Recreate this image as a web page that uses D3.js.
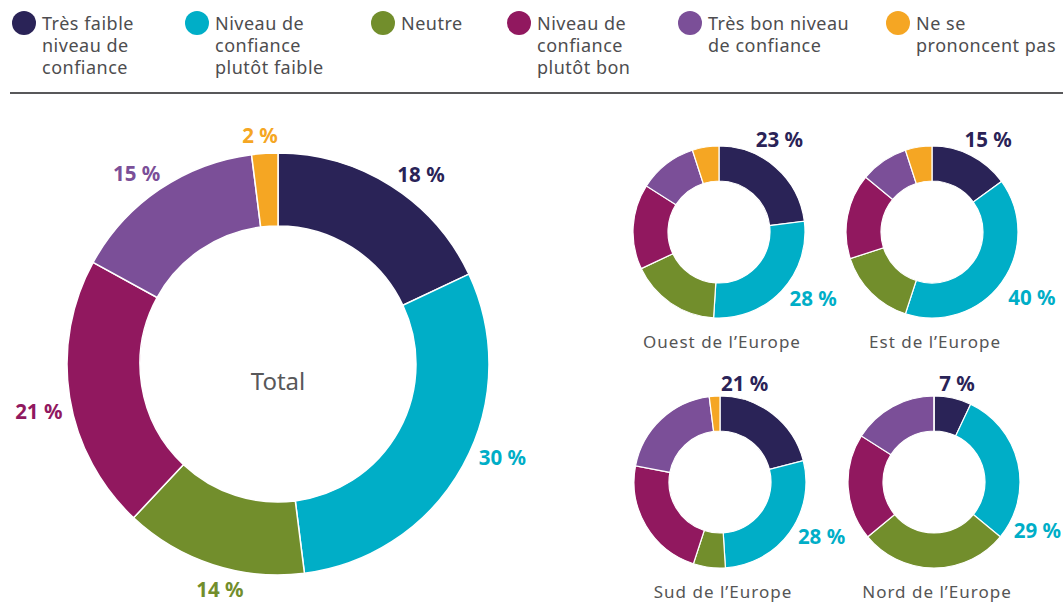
<!DOCTYPE html>
<html lang="fr">
<head>
<meta charset="utf-8">
<title>Niveau de confiance</title>
<style>
  body { margin: 0; background: #fff; }
  svg { display: block; font-family: "Noto Sans", "Open Sans", sans-serif; }
  .legend text { font-size: 18px; fill: #4d4d4f; letter-spacing: 0.5px; }
  .pct { font-size: 20.5px; font-weight: 700; }
  .caption { font-size: 17px; fill: #555; letter-spacing: 1px; }
</style>
</head>
<body>
<svg width="1063" height="603"></svg>
<script src="https://d3js.org/d3.v7.min.js"></script>
<script>
// categories (legend lines)
var categories = [
  ["Très faible", "niveau de", "confiance"],
  ["Niveau de", "confiance", "plutôt faible"],
  ["Neutre"],
  ["Niveau de", "confiance", "plutôt bon"],
  ["Très bon niveau", "de confiance"],
  ["Ne se", "prononcent pas"]
];
var colors = ["#2a2357", "#00aec7", "#728e2c", "#91185f", "#7b4f98", "#f5a623"];

// values in %
var totalValues = [18, 30, 14, 21, 15, 2];
var regions = ["Ouest de l’Europe", "Est de l’Europe", "Sud de l’Europe", "Nord de l’Europe"];
var ouestValues = [23, 28, 17, 16, 11, 5];
var estValues = [15, 40, 15, 16, 9, 5];
var sudValues = [21, 28, 6, 23, 20, 2];
var nordValues = [7, 29, 28, 20, 16, 0];
var regionValues = [ouestValues, estValues, sudValues, nordValues];

// layout
var legendX = [24, 197, 383, 519, 690, 898];
// label direction (degrees from top) around the big donut
var bigLabelAngle = [37, 112.5, 194.5, 259, 323.5, 355.5];
var smallPos = [
  {cx: 719, cy: 232, a: [33, 125], r: [111, 115]},
  {cx: 932, cy: 232, a: [31, 123], r: [109, 119]},
  {cx: 720, cy: 482, a: [14, 118], r: [102, 115]},
  {cx: 934, cy: 482, a: [13, 115], r: [102, 114]}
];

var svg = d3.select("svg");
var pie = d3.pie().sort(null).value(function(d) { return d; });
var rad = Math.PI / 180;

// legend
var leg = svg.append("g").attr("class", "legend");
categories.forEach(function(lines, i) {
  var g = leg.append("g").attr("transform", "translate(" + legendX[i] + ",23)");
  g.append("circle").attr("r", 12).attr("fill", colors[i]);
  g.append("text")
    .selectAll("tspan").data(lines).enter().append("tspan")
      .attr("x", 18)
      .attr("y", function(d, j) { return 7 + j * 22; })
      .text(function(d) { return d; });
});

svg.append("line")
  .attr("x1", 10).attr("x2", 1063)
  .attr("y1", 93).attr("y2", 93)
  .attr("stroke", "#58585a").attr("stroke-width", 2);

// big donut
var big = svg.append("g").attr("transform", "translate(278,364)");
var bigArc = d3.arc().innerRadius(138).outerRadius(211);
var bigArcs = pie(totalValues);
big.selectAll("path").data(bigArcs).enter().append("path")
  .attr("d", bigArc)
  .attr("fill", function(d, i) { return colors[i]; })
  .attr("stroke", "#fff").attr("stroke-width", 1.5);

big.selectAll("text.pct").data(bigArcs).enter().append("text")
  .attr("class", "pct")
  .attr("text-anchor", "middle")
  .attr("dominant-baseline", "central")
  .attr("fill", function(d, i) { return colors[i]; })
  .attr("transform", function(d, i) {
    var m = bigLabelAngle[i] * rad;
    var r = 228 + 16 * Math.abs(Math.sin(m));
    return "translate(" + (r * Math.sin(m)) + "," + (-r * Math.cos(m)) + ")";
  })
  .text(function(d) { return d.data + " %"; });

big.append("text")
  .attr("y", 16)
  .attr("text-anchor", "middle")
  .attr("dominant-baseline", "central")
  .attr("fill", "#58585a")
  .style("font-size", "24px")
  .text("Total");

// small donuts
var smallArc = d3.arc().innerRadius(51).outerRadius(86);
regionValues.forEach(function(vals, k) {
  var p = smallPos[k];
  var g = svg.append("g").attr("transform", "translate(" + p.cx + "," + p.cy + ")");
  g.selectAll("path").data(pie(vals)).enter().append("path")
    .attr("d", smallArc)
    .attr("fill", function(d, i) { return colors[i]; })
    .attr("stroke", "#fff").attr("stroke-width", 1.2);

  // only the first two categories are labelled
  [0, 1].forEach(function(i) {
    var a = p.a[i] * rad, r = p.r[i];
    g.append("text")
      .attr("class", "pct")
      .attr("text-anchor", "middle")
      .attr("dominant-baseline", "central")
      .attr("fill", colors[i])
      .attr("x", r * Math.sin(a))
      .attr("y", -r * Math.cos(a))
      .text(vals[i] + " %");
  });

  g.append("text")
    .attr("class", "caption")
    .attr("text-anchor", "middle")
    .attr("dominant-baseline", "central")
    .attr("x", 3)
    .attr("y", 109)
    .text(regions[k]);
});
</script>
</body>
</html>
